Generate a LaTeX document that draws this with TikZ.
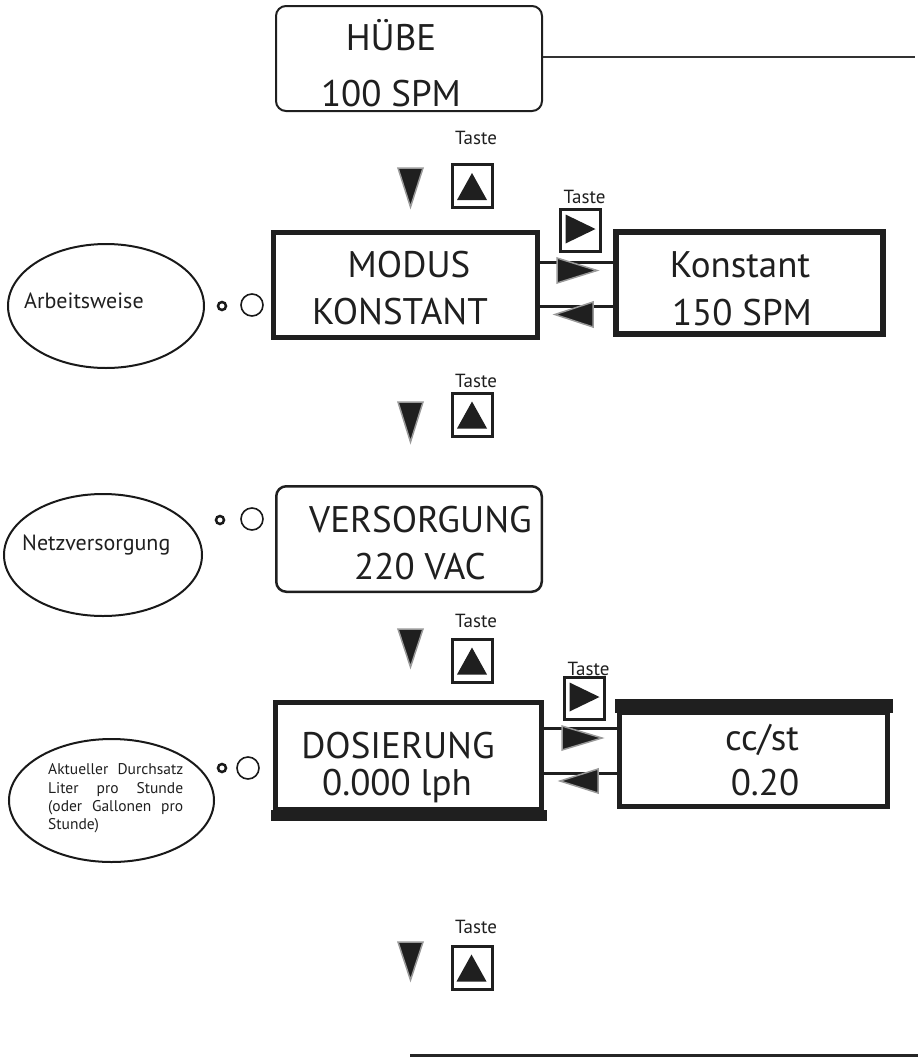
\documentclass[tikz,border=0pt]{standalone}
\usepackage{fontspec}
\setmainfont{PT Sans}
\usetikzlibrary{shapes.geometric}
\begin{document}
\begin{tikzpicture}[x=1pt,y=-1pt,
  big/.style={font=\fontsize{37}{37}\selectfont, anchor=base, inner sep=0pt, text=black!88},
  lbl/.style={font=\fontsize{19}{19}\selectfont, anchor=base, inner sep=0pt, text=black!88},
  small/.style={font=\fontsize{22}{22}\selectfont, anchor=base west, inner sep=0pt, text=black!88},
  keybox/.style={draw=black!88, line width=3pt, minimum width=40pt, minimum height=43pt, inner sep=0pt},
  tri/.style={fill=black!88},
  downtri/.style={fill=black!88, draw=black!40, line width=1.5pt, line join=miter},
  conn/.style={line width=3pt, draw=black!88},
  sidetri/.style={fill=black!88, draw=black!40, line width=1.5pt, line join=miter},
  bubble/.style={ellipse, draw=black!90, line width=2pt, inner sep=0pt},
  dot/.style={circle, draw=black!90, inner sep=0pt},
  sharpbox/.style={draw=black!88, inner sep=0pt},
  roundbox/.style={draw=black!88, rounded corners=10pt, inner sep=0pt}
]
\useasboundingbox (0,0) rectangle (918,1058);

% ---------- HUBE ----------
\node[roundbox, line width=2pt, minimum width=266pt, minimum height=105pt] (hube) at (409,58.5) {};
\node[big] (hubeA) at (391,50) {HÜBE};
\node[big] (hubeB) at (391,106) {100 SPM};
\coordinate (topend) at (915,57);
\draw[line width=2.5pt, black!80] (hube.east |- topend) -- (topend);

% ---------- key set A ----------
\node[lbl] (tasteA) at (476,144) {Taste};
\filldraw[downtri] (398,168) -- (423,168) -- (410.5,207) -- cycle;
\node[keybox] (keyA) at (472.5,186) {};
\fill[tri] (keyA.center) ++(-15.5,14) -- ++(30,0) -- ++(-15,-27) -- cycle;

% ---------- MODUS ----------
\node[sharpbox, line width=5pt, minimum width=264pt, minimum height=105pt] (modus) at (405.5,285) {};
\node[big] (modusA) at (409,277) {MODUS};
\node[big] (modusB) at (400,324) {KONSTANT};
\node[sharpbox, line width=6pt, minimum width=267pt, minimum height=102pt] (konst) at (749.5,283) {};
\node[big] (konstA) at (740,277) {Konstant};
\node[big] (konstB) at (742,325) {150 SPM};
\draw[conn] (modus.east |- 0,262) -- (konst.west |- 0,262);
\draw[conn] (modus.east |- 0,306) -- (konst.west |- 0,306);
\filldraw[sidetri] (557,258) -- (557,283) -- (597,270.5) -- cycle;
\filldraw[sidetri] (593,302) -- (593,327) -- (555,314.5) -- cycle;
\node[lbl] (tasteE) at (584.5,203) {Taste};
\node[keybox, minimum height=42pt] (keyE) at (580.5,230.5) {};
\fill[tri] (keyE.center) ++(-15,-16) -- ++(0,29) -- ++(30,-14.5) -- cycle;

% ---------- bubble 1 ----------
\node[bubble, minimum width=196pt, minimum height=124pt] (th1) at (106,306) {};
\node[small] (th1t) at (24,308) {Arbeitsweise};
\node[dot, line width=2.5pt, minimum size=8pt] (d1a) at (222,306) {};
\node[dot, line width=1.6pt, minimum size=22pt] (d1b) at (252,305) {};

% ---------- key set B ----------
\node[lbl] (tasteB) at (476,387) {Taste};
\filldraw[downtri] (398,402) -- (423,402) -- (410.5,442) -- cycle;
\node[keybox] (keyB) at (472.5,414.5) {};
\fill[tri] (keyB.center) ++(-15.5,14) -- ++(30,0) -- ++(-15,-27) -- cycle;

% ---------- VERSORGUNG ----------
\node[roundbox, line width=2.5pt, minimum width=265.5pt, minimum height=105.5pt] (vers) at (409,539) {};
\node[big] (versA) at (420.5,532) {VERSORGUNG};
\node[big] (versB) at (420,579) {220 VAC};

% ---------- bubble 2 ----------
\node[bubble, minimum width=198pt, minimum height=122pt] (th2) at (103,555) {};
\node[small] (th2t) at (22,550) {Netzversorgung};
\node[dot, line width=2.5pt, minimum size=8pt] (d2a) at (220,520) {};
\node[dot, line width=1.6pt, minimum size=22pt] (d2b) at (252,519) {};

% ---------- key set C ----------
\node[lbl] (tasteC) at (476,627) {Taste};
\filldraw[downtri] (398,629) -- (423,629) -- (410.5,667) -- cycle;
\node[keybox] (keyC) at (472.5,660.5) {};
\fill[tri] (keyC.center) ++(-15.5,14) -- ++(30,0) -- ++(-15,-27) -- cycle;

% ---------- DOSIERUNG ----------
\node[sharpbox, line width=5pt, minimum width=266pt, minimum height=107pt] (dos) at (408.5,756) {};
\fill[black!88] ([xshift=-2.5pt,yshift=2.5pt]dos.south west) rectangle ([xshift=2.5pt,yshift=-8.5pt]dos.south east);
\node[big] (dosA) at (398,758) {DOSIERUNG};
\node[big] (dosB) at (397,795) {0.000 lph};
\node[sharpbox, line width=5pt, minimum width=268pt, minimum height=94pt] (cc) at (753.5,759.5) {};
\fill[black!88] ([xshift=-2.5pt,yshift=-2.5pt]cc.north west) rectangle ([xshift=2.5pt,yshift=11pt]cc.north east);
\node[big] (ccA) at (762,750) {cc/st};
\node[big] (ccB) at (765,795) {0.20};
\draw[conn] (dos.east |- 0,728) -- (cc.west |- 0,728);
\draw[conn] (dos.east |- 0,773) -- (cc.west |- 0,773);
\filldraw[sidetri] (562,726) -- (562,750) -- (602,738) -- cycle;
\filldraw[sidetri] (598,769) -- (598,793) -- (560,781) -- cycle;
\node[keybox, minimum height=42pt] (keyF) at (584.5,698.5) {};
\fill[tri] (keyF.center) ++(-15,-16) -- ++(0,29) -- ++(30,-14.5) -- cycle;
\node[lbl] (tasteF) at (588.5,675) {Taste};

% ---------- bubble 3 ----------
\node[bubble, minimum width=205pt, minimum height=123pt] (th3) at (111.5,800.5) {};
\node[anchor=north west, inner sep=0pt, align=left, text=black!88,
      font=\fontsize{15.5}{18.3}\selectfont] (th3t) at (48,763.5)
  {\makebox[135pt][s]{Aktueller Durchsatz}\\
   \makebox[135pt][s]{Liter pro Stunde}\\
   \makebox[135pt][s]{(oder Gallonen pro}\\
   Stunde)};
\node[dot, line width=2.5pt, minimum size=8pt] (d3a) at (222,768) {};
\node[dot, line width=1.6pt, minimum size=22pt] (d3b) at (248,768) {};

% ---------- key set D ----------
\node[lbl] (tasteD) at (476,933) {Taste};
\filldraw[downtri] (398,942) -- (423,942) -- (410.5,980) -- cycle;
\node[keybox] (keyD) at (472,967.5) {};
\fill[tri] (keyD.center) ++(-15.5,14) -- ++(30,0) -- ++(-15,-27) -- cycle;

% ---------- bottom line ----------
\coordinate (botA) at (410,1055.5);
\coordinate (botB) at (918,1055.5);
\draw[line width=2.5pt, black!85] (botA) -- (botB);
\end{tikzpicture}
\end{document}
